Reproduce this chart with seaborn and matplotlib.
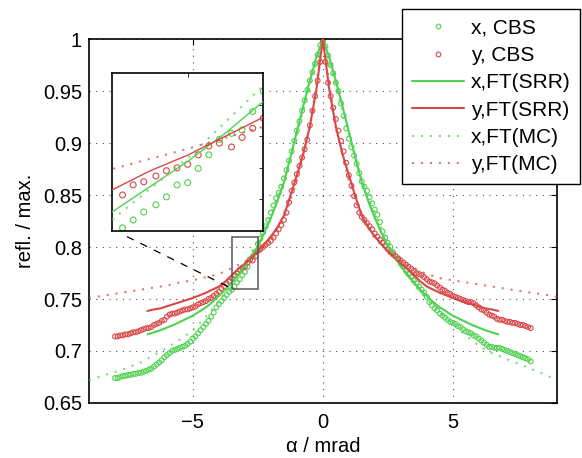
import numpy as np
import pandas as pd
import matplotlib
matplotlib.use('Agg')
import matplotlib.pyplot as plt
import seaborn as sns
from matplotlib.lines import Line2D
from matplotlib.patches import Rectangle
from matplotlib.ticker import FuncFormatter

# scan angle of the measured cones (mrad)
alpha = np.round(np.linspace(-8.0, 8.0, 161), 1)

# measured CBS cones, x and y cut
x_cbs = [
    0.674, 0.674, 0.675, 0.676, 0.676, 0.677, 0.677, 0.678, 0.678, 0.679,
    0.679, 0.680, 0.681, 0.682, 0.683, 0.685, 0.687, 0.689, 0.691, 0.694,
    0.696, 0.698, 0.700, 0.701, 0.702, 0.703, 0.704, 0.705, 0.707, 0.709,
    0.712, 0.714, 0.717, 0.720, 0.723, 0.726, 0.729, 0.733, 0.737, 0.742,
    0.745, 0.748, 0.751, 0.754, 0.757, 0.759, 0.762, 0.766, 0.769, 0.773,
    0.776, 0.781, 0.788, 0.791, 0.795, 0.803, 0.808, 0.814, 0.820, 0.826,
    0.833, 0.840, 0.847, 0.852, 0.858, 0.866, 0.874, 0.883, 0.892, 0.902,
    0.912, 0.921, 0.931, 0.941, 0.951, 0.960, 0.968, 0.976, 0.985, 0.994,
    1.000,
    0.993, 0.984, 0.975, 0.967, 0.958, 0.950, 0.938, 0.926, 0.914, 0.904,
    0.896, 0.888, 0.880, 0.871, 0.863, 0.858, 0.854, 0.848, 0.842, 0.836,
    0.831, 0.824, 0.815, 0.809, 0.804, 0.800, 0.795, 0.791, 0.788, 0.784,
    0.781, 0.777, 0.774, 0.771, 0.768, 0.765, 0.762, 0.759, 0.756, 0.752,
    0.747, 0.744, 0.741, 0.739, 0.736, 0.734, 0.732, 0.730, 0.728, 0.727,
    0.726, 0.724, 0.723, 0.721, 0.719, 0.718, 0.717, 0.715, 0.714, 0.712,
    0.710, 0.708, 0.706, 0.704, 0.704, 0.703, 0.703, 0.703, 0.702, 0.701,
    0.700, 0.699, 0.698, 0.697, 0.696, 0.695, 0.694, 0.693, 0.692, 0.690,
]
y_cbs = [
    0.714, 0.714, 0.715, 0.715, 0.716, 0.716, 0.717, 0.718, 0.718, 0.719,
    0.720, 0.721, 0.722, 0.722, 0.723, 0.725, 0.726, 0.727, 0.729, 0.730,
    0.733, 0.735, 0.736, 0.736, 0.737, 0.738, 0.739, 0.740, 0.740, 0.741,
    0.742, 0.743, 0.745, 0.746, 0.747, 0.748, 0.750, 0.751, 0.753, 0.755,
    0.757, 0.760, 0.762, 0.765, 0.767, 0.770, 0.773, 0.775, 0.778, 0.780,
    0.781, 0.785, 0.788, 0.787, 0.791, 0.796, 0.798, 0.800, 0.802, 0.804,
    0.806, 0.809, 0.813, 0.817, 0.821, 0.826, 0.833, 0.843, 0.854, 0.862,
    0.870, 0.878, 0.886, 0.894, 0.903, 0.917, 0.931, 0.945, 0.960, 0.978,
    0.998,
    0.978, 0.958, 0.945, 0.934, 0.923, 0.912, 0.902, 0.892, 0.881, 0.869,
    0.859, 0.849, 0.840, 0.833, 0.829, 0.826, 0.823, 0.820, 0.817, 0.813,
    0.810, 0.807, 0.804, 0.801, 0.798, 0.795, 0.793, 0.791, 0.789, 0.787,
    0.785, 0.783, 0.781, 0.779, 0.777, 0.775, 0.774, 0.773, 0.771, 0.769,
    0.767, 0.766, 0.765, 0.763, 0.761, 0.759, 0.758, 0.756, 0.755, 0.753,
    0.752, 0.751, 0.750, 0.749, 0.748, 0.747, 0.747, 0.746, 0.744, 0.742,
    0.740, 0.739, 0.737, 0.735, 0.734, 0.733, 0.731, 0.730, 0.730, 0.729,
    0.728, 0.728, 0.727, 0.727, 0.726, 0.725, 0.725, 0.724, 0.723, 0.722,
]

# FT of the SRR model
alpha_srr = [-6.75, -6.5, -6.25, -6.0, -5.75, -5.5, -5.25, -5.0, -4.75, -4.5,
             -4.25, -4.0, -3.75, -3.5, -3.25, -3.0, -2.75, -2.5, -2.25, -2.0,
             -1.75, -1.5, -1.25, -1.0, -0.75, -0.5, -0.25, 0.0,
             0.25, 0.5, 0.75, 1.0, 1.25, 1.5, 1.75, 2.0, 2.25, 2.5,
             2.75, 3.0, 3.25, 3.5, 3.75, 4.0, 4.25, 4.5, 4.75, 5.0,
             5.25, 5.5, 5.75, 6.0, 6.25, 6.5, 6.75]
x_srr = [0.716, 0.718, 0.720, 0.7225, 0.725, 0.728, 0.731, 0.734, 0.738, 0.742,
         0.747, 0.753, 0.759, 0.766, 0.774, 0.782, 0.791, 0.801, 0.814, 0.828,
         0.844, 0.862, 0.886, 0.911, 0.936, 0.960, 0.982, 1.000,
         0.982, 0.960, 0.936, 0.911, 0.886, 0.862, 0.844, 0.828, 0.814, 0.801,
         0.791, 0.782, 0.774, 0.766, 0.759, 0.753, 0.747, 0.742, 0.738, 0.734,
         0.731, 0.728, 0.725, 0.7225, 0.720, 0.718, 0.716]
y_srr = [0.7385, 0.740, 0.741, 0.743, 0.745, 0.747, 0.749, 0.751, 0.7535, 0.756,
         0.759, 0.762, 0.767, 0.773, 0.779, 0.784, 0.790, 0.796, 0.803, 0.810,
         0.819, 0.830, 0.849, 0.869, 0.890, 0.916, 0.951, 1.000,
         0.951, 0.916, 0.890, 0.869, 0.849, 0.830, 0.819, 0.810, 0.803, 0.796,
         0.790, 0.784, 0.779, 0.773, 0.767, 0.762, 0.759, 0.756, 0.7535, 0.751,
         0.749, 0.747, 0.745, 0.743, 0.741, 0.740, 0.7385]

# FT of the Monte Carlo result
alpha_mc = [-9.0, -8.5, -8.0, -7.5, -7.0, -6.5, -6.0, -5.5, -5.0, -4.5,
            -4.0, -3.5, -3.0, -2.5, -2.0, -1.5, -1.0, -0.5, 0.0,
            0.5, 1.0, 1.5, 2.0, 2.5, 3.0, 3.5, 4.0, 4.5,
            5.0, 5.5, 6.0, 6.5, 7.0, 7.5, 8.0, 8.5, 9.0]
x_mc = [0.672, 0.676, 0.680, 0.684, 0.689, 0.696, 0.703, 0.711, 0.720, 0.733,
        0.748, 0.7635, 0.783, 0.806, 0.832, 0.865, 0.908, 0.955, 1.000,
        0.955, 0.908, 0.865, 0.832, 0.805, 0.781, 0.764, 0.750, 0.737,
        0.726, 0.715, 0.705, 0.698, 0.693, 0.688, 0.683, 0.678, 0.672]
y_mc = [0.751, 0.753, 0.755, 0.757, 0.759, 0.761, 0.763, 0.766, 0.768, 0.771,
        0.774, 0.7796, 0.786, 0.793, 0.806, 0.826, 0.864, 0.915, 1.000,
        0.915, 0.864, 0.828, 0.808, 0.796, 0.787, 0.780, 0.774, 0.770,
        0.768, 0.766, 0.764, 0.762, 0.760, 0.758, 0.756, 0.7545, 0.752]

# points inside the zoom window
alpha_zoom = [-3.43, -3.36, -3.29, -3.21, -3.14, -3.07, -3.00,
              -2.93, -2.86, -2.79, -2.71, -2.64, -2.57, -2.50]
x_cbs_zoom = [0.761, 0.7635, 0.766, 0.7683, 0.7708, 0.7746, 0.7753,
              0.7798, 0.7841, 0.789, 0.7909, 0.792, 0.7978, 0.8042]
y_cbs_zoom = [0.7714, 0.7746, 0.7756, 0.7774, 0.7791, 0.780, 0.7811,
              0.7841, 0.7869, 0.7878, 0.7866, 0.7896, 0.7925, 0.7957]

GREEN = '#4fd24f'
RED = '#d84848'
DOTS = (0, (1, 3.3))

sns.set_theme(style='white')
plt.rcParams['font.family'] = ['Liberation Sans', 'DejaVu Sans']
plt.rcParams['text.color'] = 'black'
plt.rcParams['axes.labelcolor'] = 'black'
plt.rcParams['axes.unicode_minus'] = True

fig = plt.figure(figsize=(5.82, 4.58), dpi=100)
ax = fig.add_axes([0.1529, 0.1201, 0.8036, 0.7947])


def draw_curves(a, cbs_a, cbs_x, cbs_y, ms, lw):
    sns.scatterplot(x=cbs_a, y=cbs_x, ax=a, marker='o', s=ms, facecolor='none',
                    edgecolor=GREEN, linewidth=0.8, zorder=2)
    sns.scatterplot(x=cbs_a, y=cbs_y, ax=a, marker='o', s=ms, facecolor='none',
                    edgecolor=RED, linewidth=0.8, zorder=2)
    sns.lineplot(x=alpha_srr, y=x_srr, ax=a, color=GREEN, lw=lw,
                 estimator=None, sort=False, zorder=3)
    sns.lineplot(x=alpha_srr, y=y_srr, ax=a, color=RED, lw=lw,
                 estimator=None, sort=False, zorder=3)
    sns.lineplot(x=alpha_mc, y=x_mc, ax=a, color=GREEN, lw=1.5, ls=DOTS,
                 alpha=0.75, estimator=None, sort=False, zorder=3)
    sns.lineplot(x=alpha_mc, y=y_mc, ax=a, color=RED, lw=1.5, ls=DOTS,
                 alpha=0.75, estimator=None, sort=False, zorder=3)


draw_curves(ax, alpha, x_cbs, y_cbs, 12, 1.5)

ax.set_xlim(-9, 9)
ax.set_ylim(0.65, 1.0)
ax.set_xticks([-5, 0, 5])
ax.set_yticks([0.65, 0.7, 0.75, 0.8, 0.85, 0.9, 0.95, 1.0])
ax.yaxis.set_major_formatter(FuncFormatter(lambda v, p: '%g' % round(v, 2)))
ax.grid(True, ls=(0, (1, 5)), color='0.3', lw=0.8)
ax.tick_params(direction='in', top=True, right=True, length=4, width=0.8,
               labelsize=14.5, colors='black')
ax.tick_params(axis='x', pad=7)
ax.tick_params(axis='y', pad=5)
for s in ax.spines.values():
    s.set_color('black')
    s.set_linewidth(1.2)
ax.set_xlabel('α / mrad', fontsize=14.5, labelpad=4)
ax.set_ylabel('refl. / max.', fontsize=14.5, labelpad=6)

# zoom window and its pointer
ax.add_patch(Rectangle((-3.5, 0.76), 1.0, 0.05, fill=False,
                       edgecolor='0.35', lw=1.1, zorder=5))
ax.plot([-7.54, -3.5], [0.81, 0.76], color='black', lw=0.9,
        ls=(0, (6, 6)), zorder=5)

ins = fig.add_axes([0.1924, 0.4956, 0.26, 0.345])
draw_curves(ins, alpha_zoom, x_cbs_zoom, y_cbs_zoom, 18, 1.0)
ins.set_xlim(-3.5, -2.5)
ins.set_ylim(0.76, 0.81)
ins.set_xticks([-3])
ins.set_yticks([0.77, 0.78, 0.79, 0.80])
ins.set_xticklabels([])
ins.set_yticklabels([])
ins.set_xlabel('')
ins.set_ylabel('')
ins.tick_params(direction='in', top=True, right=True, length=3, width=0.7)
ins.set_facecolor('white')
for s in ins.spines.values():
    s.set_color('black')
    s.set_linewidth(1.2)

handles = [
    Line2D([], [], ls='none', marker='o', ms=3.4, mfc='none', mec=GREEN, mew=0.8),
    Line2D([], [], ls='none', marker='o', ms=3.4, mfc='none', mec=RED, mew=0.8),
    Line2D([], [], color=GREEN, lw=1.5),
    Line2D([], [], color=RED, lw=1.5),
    Line2D([], [], color=GREEN, lw=1.5, ls=DOTS, alpha=0.75),
    Line2D([], [], color=RED, lw=1.5, ls=DOTS, alpha=0.75),
]
labels = ['x, CBS', 'y, CBS', 'x,FT(SRR)', 'y,FT(SRR)', 'x,FT(MC)', 'y,FT(MC)']
leg = ax.legend(handles, labels, loc='upper right',
                bbox_to_anchor=(0.9966, 0.980), bbox_transform=fig.transFigure,
                borderaxespad=0, fancybox=False, framealpha=1, edgecolor='black',
                fontsize=15, handlelength=2.5, labelspacing=0.4,
                borderpad=0.45, handletextpad=0.35)
leg.get_frame().set_linewidth(1.0)
leg.set_zorder(10)

plt.savefig('out.png', dpi=100)
